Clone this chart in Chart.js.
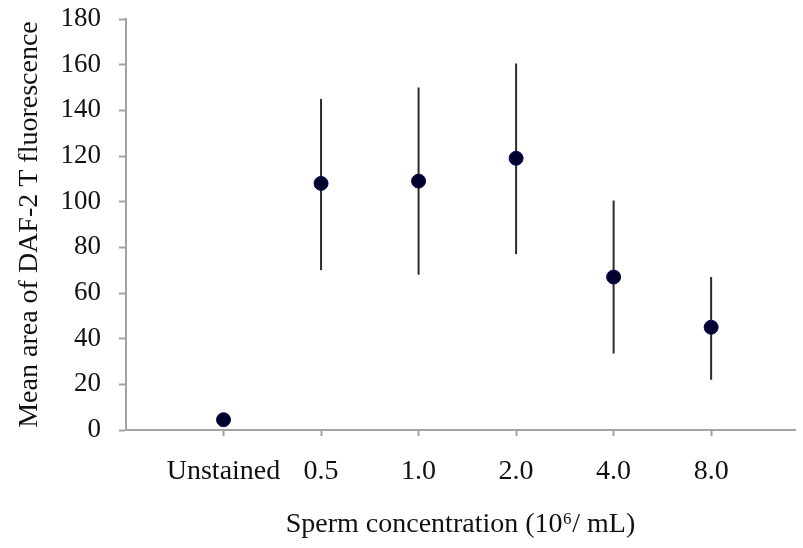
<!DOCTYPE html>
<html>
<head>
<meta charset="utf-8">
<title>DAF-2 T fluorescence</title>
<script src="https://cdn.jsdelivr.net/npm/chart.js@4/dist/chart.umd.min.js"></script>
<style>
  body { margin: 0; background: #fff; }
  #wrap { width: 803px; height: 548px; }
</style>
</head>
<body>
<div id="wrap"><canvas id="myChart" width="803" height="548"></canvas></div>
<script>
// groups along the x axis
const categories = ['Unstained', '0.5', '1.0', '2.0', '4.0', '8.0'];

// mean area and the ends of the error bars
const meanArea = [4.5, 108, 109, 119, 67, 45];
const errLow = [4.5, 70, 68, 77, 33.5, 22];
const errHigh = [4.5, 145, 150, 160.5, 100.5, 67];

// y axis ticks
const yTicks = [0, 20, 40, 60, 80, 100, 120, 140, 160, 180];

const points = categories.map((c, i) => ({ x: i + 1, y: meanArea[i] }));

const serif = "'Liberation Serif', 'Times New Roman', serif";
const axisGrey = '#a3a3a3';

// vertical error bars, drawn under the dots
const errorBars = {
  id: 'errorBars',
  beforeDatasetsDraw(chart) {
    const ctx = chart.ctx;
    const xs = chart.scales.x;
    const ys = chart.scales.y;
    ctx.save();
    ctx.strokeStyle = '#2b2b2b';
    ctx.lineWidth = 2;
    for (let i = 0; i < categories.length; i++) {
      if (errHigh[i] === errLow[i]) continue;
      const px = xs.getPixelForValue(i + 1);
      ctx.beginPath();
      ctx.moveTo(px, ys.getPixelForValue(errLow[i]));
      ctx.lineTo(px, ys.getPixelForValue(errHigh[i]));
      ctx.stroke();
    }
    ctx.restore();
  }
};

const myChart = document.getElementById('myChart');

let dotChart = new Chart(myChart, {
  type: 'scatter',
  data: {
    datasets: [{
      data: points,
      pointRadius: 7,
      pointHoverRadius: 7,
      backgroundColor: '#00002e',
      borderColor: '#0a0a55',
      borderWidth: 1
    }]
  },
  options: {
    responsive: false,
    animation: false,
    layout: { padding: { top: 19, right: 0, left: 0, bottom: 0 } },
    plugins: {
      legend: { display: false },
      tooltip: { enabled: false }
    },
    scales: {
      x: {
        type: 'linear',
        min: 0,
        max: 6.86,
        afterFit: (scale) => {
          scale.height = 118;
          scale.paddingLeft = 0;
          scale.paddingRight = 0;
        },
        afterBuildTicks: (scale) => {
          scale.ticks = categories.map((c, i) => ({ value: i + 1 }));
        },
        ticks: {
          autoSkip: false,
          maxRotation: 0,
          padding: 19,
          color: '#111',
          font: { family: serif, size: 28 },
          callback: (v) => categories[v - 1]
        },
        grid: {
          drawOnChartArea: false,
          drawTicks: true,
          tickLength: 6,
          tickWidth: 2,
          tickColor: axisGrey
        },
        border: { color: axisGrey, width: 2 },
        title: {
          display: true,
          text: 'Sperm concentration (10\u2076/ mL)',
          color: '#111',
          font: { family: serif, size: 28 },
          padding: { top: 0, bottom: 7 }
        }
      },
      y: {
        min: 0,
        max: 180,
        afterFit: (scale) => {
          scale.width = 126;
          scale.paddingTop = 0;
          scale.paddingBottom = 0;
        },
        afterBuildTicks: (scale) => {
          scale.ticks = yTicks.map(v => ({ value: v }));
        },
        ticks: {
          padding: 18,
          color: '#111',
          font: { family: serif, size: 27 }
        },
        grid: {
          drawOnChartArea: false,
          drawTicks: true,
          tickLength: 7,
          tickWidth: 2,
          tickColor: axisGrey
        },
        border: { color: axisGrey, width: 2 },
        title: {
          display: true,
          text: 'Mean area of DAF-2 T fluorescence',
          color: '#111',
          font: { family: serif, size: 28 },
          padding: { top: 13, bottom: 0 }
        }
      }
    }
  },
  plugins: [errorBars]
});
</script>
</body>
</html>
